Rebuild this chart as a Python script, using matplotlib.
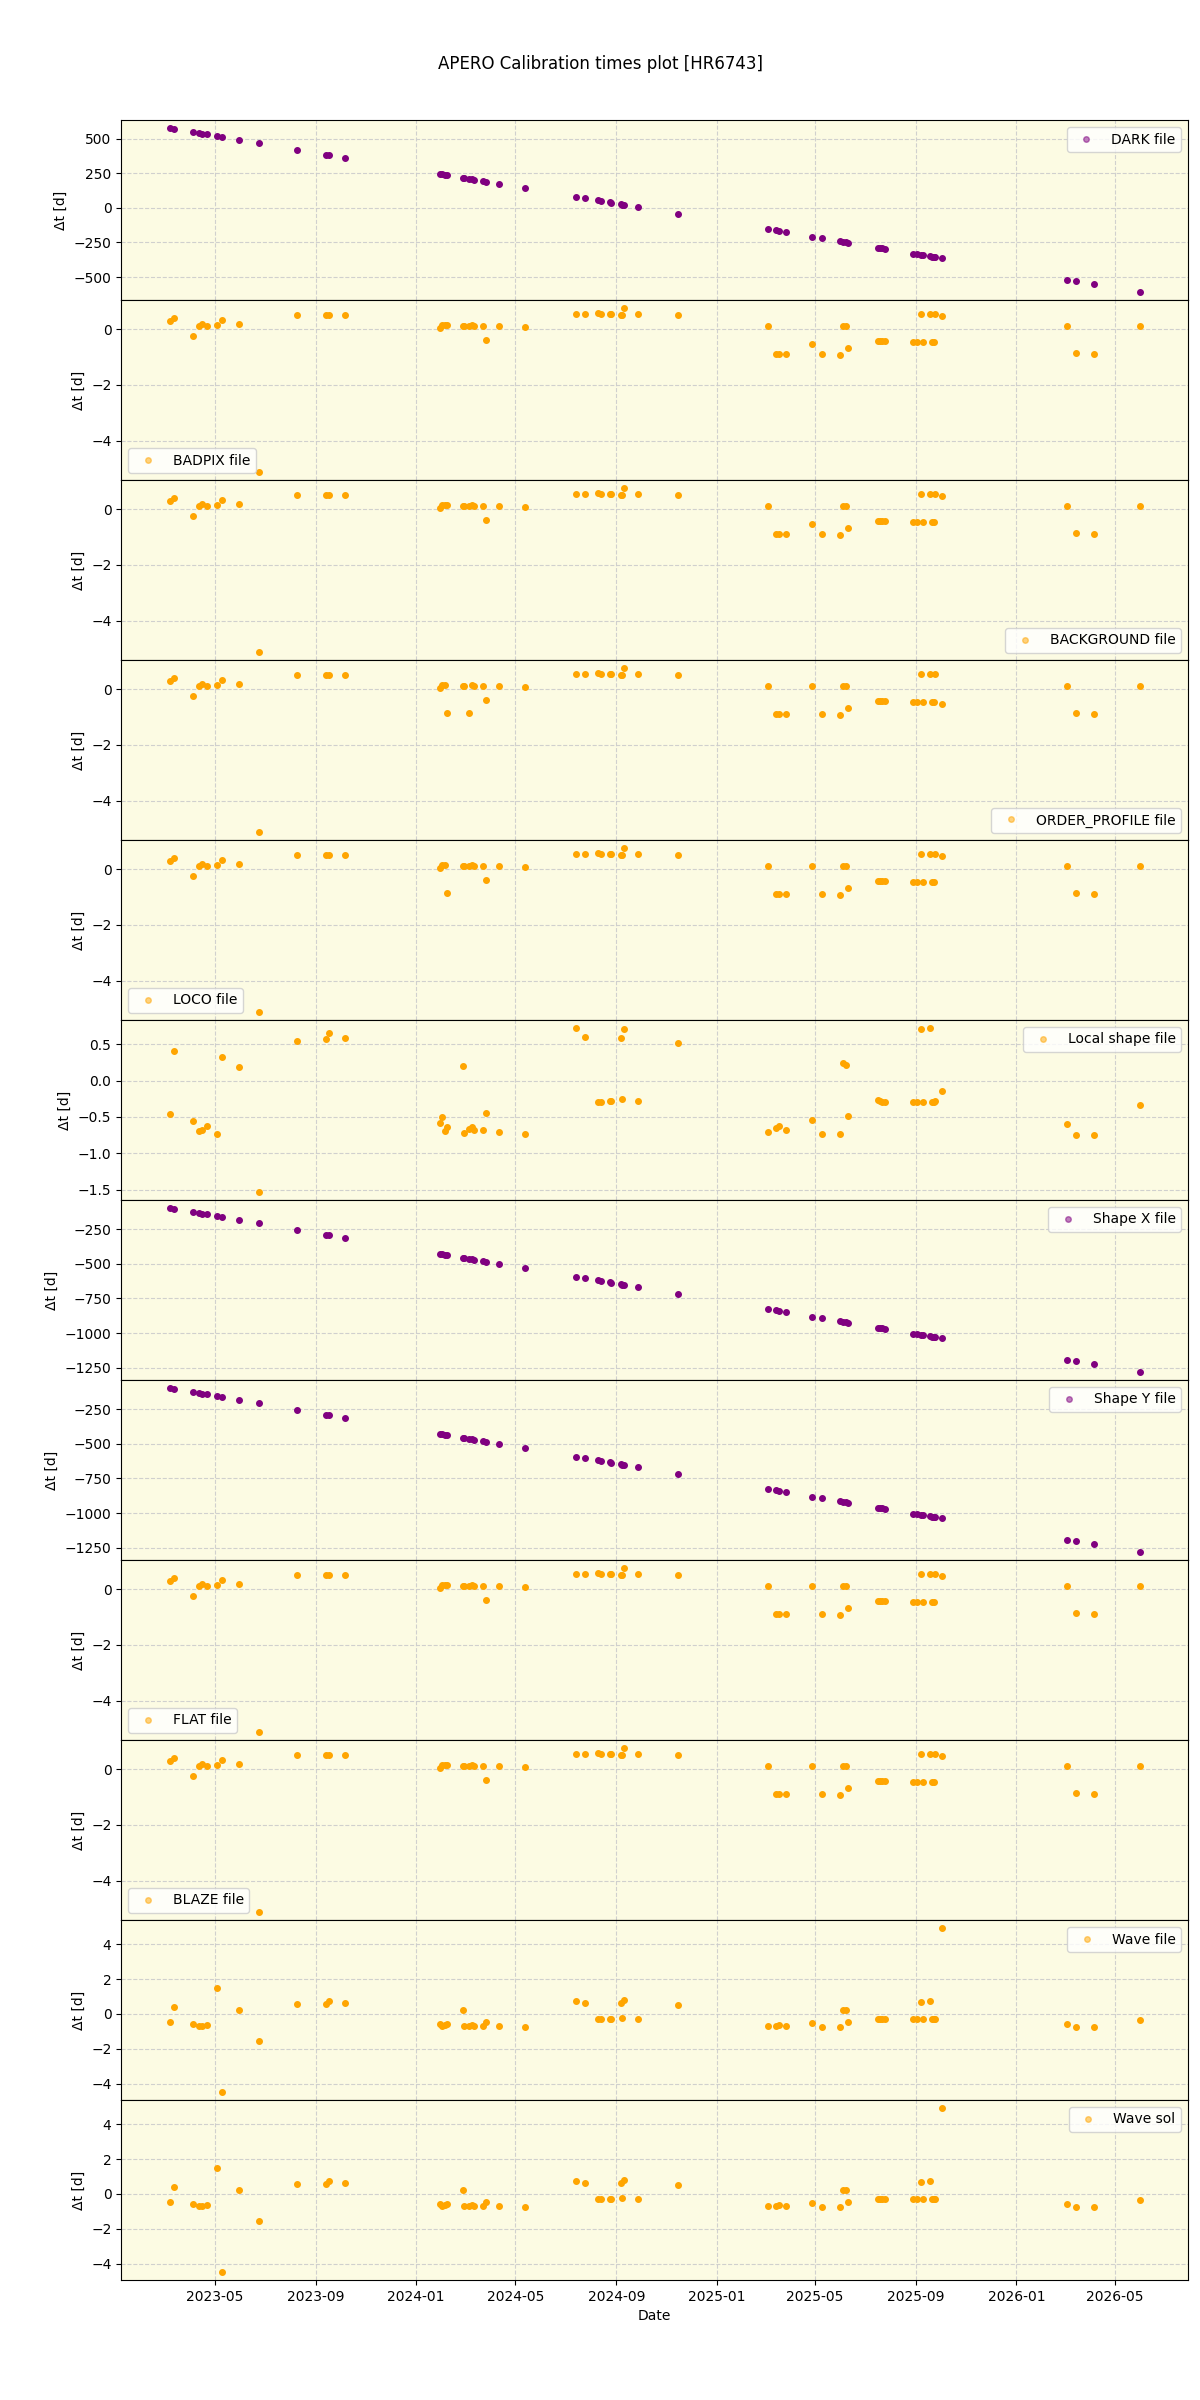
import matplotlib
matplotlib.use('Agg')
import matplotlib.pyplot as plt
import matplotlib.dates as mdates
import numpy as np
import pandas as pd

# observation dates (x axis)
obs_dates = [
    '2023-03-07', '2023-03-12', '2023-04-04', '2023-04-12', '2023-04-15', '2023-04-21',
    '2023-05-04', '2023-05-10', '2023-05-30', '2023-06-24', '2023-08-09', '2023-09-13',
    '2023-09-17', '2023-10-07', '2024-01-30', '2024-02-02', '2024-02-05', '2024-02-08',
    '2024-02-27', '2024-02-28', '2024-03-06', '2024-03-09', '2024-03-12', '2024-03-22',
    '2024-03-26', '2024-04-11', '2024-05-13', '2024-07-14', '2024-07-25', '2024-08-09',
    '2024-08-13', '2024-08-24', '2024-08-26', '2024-09-07', '2024-09-08', '2024-09-10',
    '2024-09-27', '2024-11-15', '2025-03-04', '2025-03-14', '2025-03-18', '2025-03-27',
    '2025-04-27', '2025-05-09', '2025-05-31', '2025-06-04', '2025-06-07', '2025-06-10',
    '2025-07-16', '2025-07-19', '2025-07-22', '2025-07-25', '2025-08-28', '2025-09-02',
    '2025-09-07', '2025-09-09', '2025-09-18', '2025-09-20', '2025-09-23', '2025-09-24',
    '2025-10-02', '2026-03-04', '2026-03-15', '2026-04-05', '2026-05-31',
]

# dates of the fixed reference calibrations
dark_file_date = '2024-10-02'
shape_x_date = '2022-11-28'
shape_y_date = '2022-11-28'

# nightly calibrations, delta t in days
badpix_dt = [
    0.29, 0.39, -0.25, 0.11, 0.18, 0.11, 0.13, 0.31, 0.18, -5.11, 0.50, 0.51,
    0.50, 0.50, 0.04, 0.13, 0.14, 0.14, 0.11, 0.11, 0.11, 0.13, 0.11, 0.11,
    -0.39, 0.11, 0.07, 0.55, 0.55, 0.57, 0.55, 0.54, 0.54, 0.50, 0.52, 0.75,
    0.54, 0.50, 0.11, -0.89, -0.89, -0.89, -0.54, -0.89, -0.92, 0.10, 0.10, -0.68,
    -0.44, -0.44, -0.44, -0.44, -0.46, -0.46, 0.54, -0.46, 0.54, -0.46, -0.46, 0.54,
    0.48, 0.11, -0.86, -0.89, 0.11,
]
background_dt = [
    0.29, 0.39, -0.25, 0.11, 0.18, 0.11, 0.13, 0.31, 0.18, -5.11, 0.50, 0.51,
    0.50, 0.50, 0.04, 0.13, 0.14, 0.14, 0.11, 0.11, 0.11, 0.13, 0.11, 0.11,
    -0.39, 0.11, 0.07, 0.55, 0.55, 0.57, 0.55, 0.54, 0.54, 0.50, 0.52, 0.75,
    0.54, 0.50, 0.11, -0.89, -0.89, -0.89, -0.54, -0.89, -0.92, 0.10, 0.10, -0.68,
    -0.44, -0.44, -0.44, -0.44, -0.46, -0.46, 0.54, -0.46, 0.54, -0.46, -0.46, 0.54,
    0.48, 0.11, -0.86, -0.89, 0.11,
]
order_profile_dt = [
    0.29, 0.39, -0.25, 0.11, 0.18, 0.11, 0.13, 0.31, 0.18, -5.11, 0.50, 0.51,
    0.50, 0.50, 0.04, 0.13, 0.14, -0.86, 0.11, 0.11, -0.86, 0.13, 0.11, 0.11,
    -0.39, 0.11, 0.07, 0.55, 0.55, 0.57, 0.55, 0.54, 0.54, 0.50, 0.52, 0.75,
    0.54, 0.50, 0.11, -0.89, -0.89, -0.89, 0.11, -0.89, -0.92, 0.10, 0.10, -0.68,
    -0.44, -0.44, -0.44, -0.44, -0.46, -0.46, 0.54, -0.46, 0.54, -0.46, -0.46, 0.54,
    -0.52, 0.11, -0.86, -0.89, 0.11,
]
loco_dt = [
    0.29, 0.39, -0.25, 0.11, 0.18, 0.11, 0.13, 0.31, 0.18, -5.11, 0.50, 0.51,
    0.50, 0.50, 0.04, 0.13, 0.14, -0.86, 0.11, 0.11, 0.11, 0.13, 0.11, 0.11,
    -0.39, 0.11, 0.07, 0.55, 0.55, 0.57, 0.55, 0.54, 0.54, 0.50, 0.52, 0.75,
    0.54, 0.50, 0.11, -0.89, -0.89, -0.89, 0.11, -0.89, -0.92, 0.10, 0.10, -0.68,
    -0.44, -0.44, -0.44, -0.44, -0.46, -0.46, 0.54, -0.46, 0.54, -0.46, -0.46, 0.54,
    0.48, 0.11, -0.86, -0.89, 0.11,
]
local_shape_dt = [
    -0.46, 0.41, -0.55, -0.70, -0.68, -0.62, -0.73, 0.32, 0.19, -1.53, 0.55, 0.57,
    0.66, 0.59, -0.58, -0.50, -0.69, -0.64, 0.20, -0.72, -0.66, -0.64, -0.68, -0.68,
    -0.45, -0.71, -0.73, 0.72, 0.60, -0.29, -0.29, -0.28, -0.28, 0.58, -0.26, 0.71,
    -0.28, 0.52, -0.71, -0.65, -0.63, -0.68, -0.54, -0.73, -0.73, 0.24, 0.22, -0.49,
    -0.27, -0.28, -0.29, -0.29, -0.29, -0.30, 0.71, -0.30, 0.72, -0.29, -0.30, -0.28,
    -0.15, -0.60, -0.75, -0.75, -0.33,
]
flat_dt = [
    0.29, 0.39, -0.25, 0.11, 0.18, 0.11, 0.13, 0.31, 0.18, -5.11, 0.50, 0.51,
    0.50, 0.50, 0.04, 0.13, 0.14, 0.14, 0.11, 0.11, 0.11, 0.13, 0.11, 0.11,
    -0.39, 0.11, 0.07, 0.55, 0.55, 0.57, 0.55, 0.54, 0.54, 0.50, 0.52, 0.75,
    0.54, 0.50, 0.11, -0.89, -0.89, -0.89, 0.11, -0.89, -0.92, 0.10, 0.10, -0.68,
    -0.44, -0.44, -0.44, -0.44, -0.46, -0.46, 0.54, -0.46, 0.54, -0.46, -0.46, 0.54,
    0.48, 0.11, -0.86, -0.89, 0.11,
]
blaze_dt = list(flat_dt)
wave_dt = [
    -0.46, 0.40, -0.55, -0.67, -0.70, -0.63, 1.49, -4.46, 0.23, -1.54, 0.57, 0.57,
    0.72, 0.63, -0.55, -0.67, -0.63, -0.60, 0.23, -0.67, -0.67, -0.63, -0.67, -0.67,
    -0.44, -0.67, -0.74, 0.74, 0.63, -0.27, -0.27, -0.27, -0.27, 0.60, -0.23, 0.78,
    -0.27, 0.51, -0.69, -0.67, -0.61, -0.69, -0.51, -0.74, -0.74, 0.25, 0.25, -0.44,
    -0.27, -0.27, -0.27, -0.27, -0.27, -0.27, 0.69, -0.27, 0.74, -0.27, -0.27, -0.27,
    4.91, -0.57, -0.74, -0.74, -0.34,
]
wave_sol_dt = list(wave_dt)

dates = pd.to_datetime(obs_dates)


def fixed_cal_dt(cal_date):
    # delta t between one fixed calibration file and each observation
    return ((pd.Timestamp(cal_date) - dates) / pd.Timedelta(days=1)).values


panels = [
    ('DARK file', fixed_cal_dt(dark_file_date), 'purple', 'upper right'),
    ('BADPIX file', badpix_dt, 'orange', 'lower left'),
    ('BACKGROUND file', background_dt, 'orange', 'lower right'),
    ('ORDER_PROFILE file', order_profile_dt, 'orange', 'lower right'),
    ('LOCO file', loco_dt, 'orange', 'lower left'),
    ('Local shape file', local_shape_dt, 'orange', 'upper right'),
    ('Shape X file', fixed_cal_dt(shape_x_date), 'purple', 'upper right'),
    ('Shape Y file', fixed_cal_dt(shape_y_date), 'purple', 'upper right'),
    ('FLAT file', flat_dt, 'orange', 'lower left'),
    ('BLAZE file', blaze_dt, 'orange', 'lower left'),
    ('Wave file', wave_dt, 'orange', 'upper right'),
    ('Wave sol', wave_sol_dt, 'orange', 'upper right'),
]

fig, axes = plt.subplots(len(panels), 1, figsize=(12, 24), sharex=True)
fig.subplots_adjust(left=0.101, right=0.99, top=0.95, bottom=0.05, hspace=0)

for ax, (label, values, color, loc) in zip(axes, panels):
    ax.plot(dates, values, 'o', ms=4, color=color, label=label)
    ax.set_facecolor('#fcfbe3')
    ax.grid(True, linestyle='--', color='#cccccc', alpha=0.9)
    ax.set_ylabel('Δt [d]')
    leg = ax.legend(loc=loc)
    for lh in leg.legend_handles:
        lh.set_alpha(0.5)

axes[-1].xaxis.set_major_locator(mdates.MonthLocator(bymonth=[1, 5, 9]))
axes[-1].xaxis.set_major_formatter(mdates.DateFormatter('%Y-%m'))
axes[-1].set_xlabel('Date')

fig.suptitle('APERO Calibration times plot [HR6743]', y=0.977)

plt.savefig('out.png', dpi=100)
